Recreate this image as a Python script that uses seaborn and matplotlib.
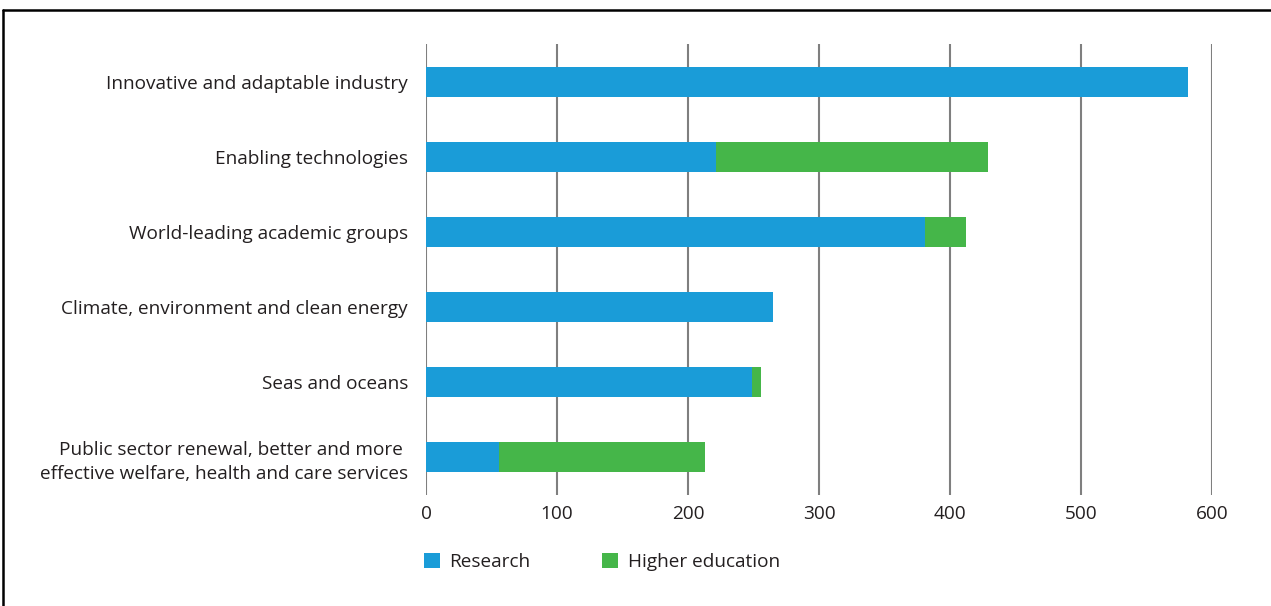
import matplotlib
matplotlib.use("Agg")
import matplotlib.pyplot as plt
import seaborn as sns
import pandas as pd
from matplotlib.lines import Line2D
from matplotlib.patches import Patch

categories = [
    "Innovative and adaptable industry",
    "Enabling technologies",
    "World-leading academic groups",
    "Climate, environment and clean energy",
    "Seas and oceans",
    "Public sector renewal, better and more \neffective welfare, health and care services",
]
research = [582, 221, 381, 265, 249, 56]
higher_education = [0, 208, 31, 0, 7, 157]
x_ticks = [0, 100, 200, 300, 400, 500, 600]

BLUE = "#1a9cd8"
GREEN = "#45b649"
TEXT = "#231f20"

sns.set_theme(style="white")
plt.rcParams["font.family"] = ["Open Sans", "DejaVu Sans"]

df = pd.DataFrame({
    "category": categories,
    "research": research,
    "total": [r + h for r, h in zip(research, higher_education)],
})

fig = plt.figure(figsize=(12.71, 6.06), dpi=100)
ax = fig.add_axes([426 / 1271, 1 - 495 / 606, (1212 - 426) / 1271, (495 - 44) / 606])

sns.barplot(data=df, y="category", x="total", color=GREEN, orient="h",
            width=0.4, saturation=1, ax=ax, linewidth=0)
sns.barplot(data=df, y="category", x="research", color=BLUE, orient="h",
            width=0.4, saturation=1, ax=ax, linewidth=0)

ax.set_xlim(0, 600)
ax.set_ylim(5.5, -0.5)
ax.set_xticks(x_ticks)
ax.set_xticklabels([str(t) for t in x_ticks])
ax.set_xlabel("")
ax.set_ylabel("")
ax.xaxis.grid(True, color="#7f7f7f", linewidth=1.5)
ax.set_axisbelow(True)
for s in ax.spines.values():
    s.set_visible(False)
ax.tick_params(axis="x", length=0, pad=7, labelsize=13.7, labelcolor=TEXT)
ax.tick_params(axis="y", length=0, pad=13, labelsize=13.7, labelcolor=TEXT)
for lbl in ax.get_yticklabels():
    lbl.set_horizontalalignment("right")
    lbl.set_multialignment("right")
    lbl.set_linespacing(1.4)

handles = [Patch(facecolor=BLUE, edgecolor="none", label="Research"),
           Patch(facecolor=GREEN, edgecolor="none", label="Higher education")]
fig.legend(handles=handles, loc="center left", bbox_to_anchor=(407 / 1271, 1 - 562 / 606),
           ncol=2, frameon=False, fontsize=13.7, handlelength=0.84, handleheight=0.84,
           handletextpad=0.5, columnspacing=3.75, labelcolor=TEXT)

# frame around the figure (top and left visible)
fig.add_artist(Line2D([3 / 1271, 1.0], [1 - 10 / 606, 1 - 10 / 606], color="black", linewidth=1.8,
                      transform=fig.transFigure))
fig.add_artist(Line2D([3 / 1271, 3 / 1271], [0.0, 1 - 10 / 606], color="black", linewidth=1.8,
                      transform=fig.transFigure))

fig.savefig("out.png", dpi=100)
